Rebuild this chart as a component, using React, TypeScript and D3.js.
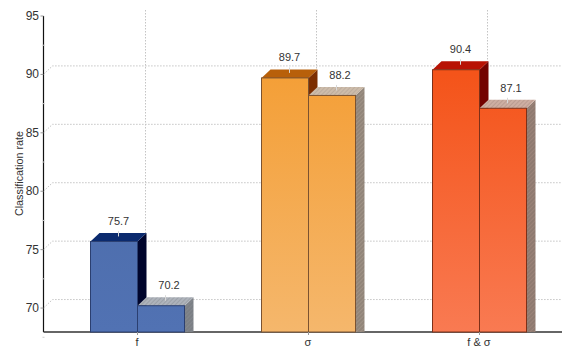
import React from "react";
import * as d3 from "d3";

const categories = ["f", "σ", "f & σ"];
const firstBars = [75.7, 89.7, 90.4];
const secondBars = [70.2, 88.2, 87.1];
const yTicks = [70, 75, 80, 85, 90, 95];
const yMinorTicks = [67.5, 72.5, 77.5, 82.5, 87.5, 92.5];

const palettes = [
  { top: "#4a69a6", bottom: "#5172b3", edge: "#2b3f70", cap: "#0b2a6e", side: "#00052c", hatchCap: "#aeb3bb", hatchSide: "#7b7f85", hatchLine: "#8b8f96" },
  { top: "#f49f37", bottom: "#f5b76c", edge: "#7b5230", cap: "#b8600a", side: "#7c2e00", hatchCap: "#cdbcaa", hatchSide: "#91857a", hatchLine: "#ad9f92" },
  { top: "#f4541a", bottom: "#f97a52", edge: "#7d3018", cap: "#b81204", side: "#730200", hatchCap: "#cdaea2", hatchSide: "#8e7a70", hatchLine: "#a98c82" },
];

const W = 562;
const H = 347;
const axisX = 43.5;
const baseY = 332;
const depthX = 9;
const depthY = 8.5;
const barWidth = 47;

const y = d3.scaleLinear().domain([67.95, 95]).range([baseY, 16]);
const x = d3.scaleBand<string>().domain(categories).range([52, 565]);
const font = "'Liberation Sans', Arial, sans-serif";
const textColor = "#333";

function poly(points: [number, number][]) {
  return d3.line()(points) + "Z";
}

function Bar({ cx, value, index, hatched, fill }: { cx: number; value: number; index: number; hatched: boolean; fill: string }) {
  const p = palettes[index];
  const yTop = y(value);
  const x0 = cx;
  const x1 = cx + barWidth;
  const capFill = hatched ? `url(#hatch-cap-${index})` : p.cap;
  const sideFill = hatched ? `url(#hatch-side-${index})` : p.side;
  const mid = x0 + barWidth / 2 + depthX / 2;
  // the right-hand bar's label sits slightly clear of its neighbour
  const labelX = hatched ? mid + 3.5 : mid;
  return (
    <g>
      <path d={poly([[x1, yTop], [x1 + depthX, yTop - depthY], [x1 + depthX, baseY], [x1, baseY]])} fill={sideFill} />
      <path d={poly([[x0, yTop], [x0 + depthX, yTop - depthY], [x1 + depthX, yTop - depthY], [x1, yTop]])} fill={capFill} />
      <rect x={x0} y={yTop} width={barWidth} height={baseY - yTop} fill={fill} stroke={p.edge} strokeWidth={1} />
      <line x1={mid} x2={mid} y1={yTop - depthY - 2} y2={yTop - depthY + 3.5} stroke="#d8d8d8" strokeWidth={1} />
      <text x={labelX} y={yTop - depthY - 8} textAnchor="middle" fontFamily={font} fontSize={11} fill={textColor}>
        {value.toFixed(1)}
      </text>
    </g>
  );
}

export default function App() {
  const centers = categories.map((c) => x(c)! + x.bandwidth() / 2);
  return (
    <svg width={W} height={H} viewBox={`0 0 ${W} ${H}`} style={{ position: "absolute", left: 0, top: 0, background: "#fff" }}>
      <defs>
        {palettes.map((p, i) => (
          <g key={i}>
            <linearGradient id={`front-${i}`} gradientUnits="userSpaceOnUse" x1={0} x2={0} y1={y(90)} y2={baseY}>
              <stop offset="0" stopColor={p.top} />
              <stop offset="1" stopColor={p.bottom} />
            </linearGradient>
            <pattern id={`hatch-cap-${i}`} width={3} height={3} patternUnits="userSpaceOnUse" patternTransform="rotate(45)">
              <rect width={3} height={3} fill={p.hatchCap} />
              <line x1={0} x2={0} y1={0} y2={3} stroke={p.hatchLine} strokeWidth={1} />
            </pattern>
            <pattern id={`hatch-side-${i}`} width={3} height={3} patternUnits="userSpaceOnUse" patternTransform="rotate(45)">
              <rect width={3} height={3} fill={p.hatchSide} />
              <line x1={0} x2={0} y1={0} y2={3} stroke={p.hatchLine} strokeWidth={1} />
            </pattern>
          </g>
        ))}
      </defs>

      {/* back-wall grid, offset from the axis by the bar depth */}
      <g stroke="#c4c4c4" strokeWidth={1} strokeDasharray="1.5 1.5" fill="none">
        {yTicks.filter((t) => t < 95).map((t) => (
          <path key={t} d={`M${axisX},${y(t)}L${axisX + depthX},${y(t) - depthY}H${W}`} />
        ))}
        {centers.map((c, i) => (
          <line key={i} x1={c + depthX - 1} x2={c + depthX - 1} y1={10} y2={baseY - depthY} />
        ))}
      </g>

      {/* axes */}
      <line x1={axisX} x2={axisX} y1={16} y2={baseY} stroke="#111" strokeWidth={1.2} />
      <line x1={axisX} x2={W} y1={baseY} y2={baseY} stroke="#333" strokeWidth={1.4} />
      <g stroke="#999" strokeWidth={1}>
        {yTicks.map((t) => (
          <line key={t} x1={axisX - 3} x2={axisX} y1={y(t)} y2={y(t)} />
        ))}
      </g>
      <g stroke="#ccc" strokeWidth={1}>
        {yMinorTicks.map((t) => (
          <line key={t} x1={axisX - 1} x2={axisX + 1} y1={y(t)} y2={y(t)} />
        ))}
      </g>
      {yTicks.map((t) => (
        <text key={t} x={39} y={y(t) + 4} textAnchor="end" fontFamily={font} fontSize={12} fill={textColor}>
          {t}
        </text>
      ))}
      <text
        transform={`translate(22.5,173.5) rotate(-90)`}
        textAnchor="middle"
        fontFamily={font}
        fontSize={10.8}
        fill={textColor}
      >
        Classification rate
      </text>

      {/* paired bars with their value labels */}
      {categories.map((c, i) => (
        <g key={c}>
          <Bar cx={centers[i] - barWidth} value={firstBars[i]} index={i} hatched={false} fill={`url(#front-${i})`} />
          <Bar cx={centers[i]} value={secondBars[i]} index={i} hatched={true} fill={`url(#front-${i})`} />
        </g>
      ))}

      {/* category labels */}
      {categories.map((c, i) => (
        <g key={c}>
          <line x1={centers[i]} x2={centers[i]} y1={baseY} y2={baseY + 3} stroke="#999" strokeWidth={1} />
          <text x={centers[i] - 0.5} y={346} textAnchor="middle" fontFamily={font} fontSize={11} fill={textColor}>
            {c}
          </text>
        </g>
      ))}
    </svg>
  );
}
